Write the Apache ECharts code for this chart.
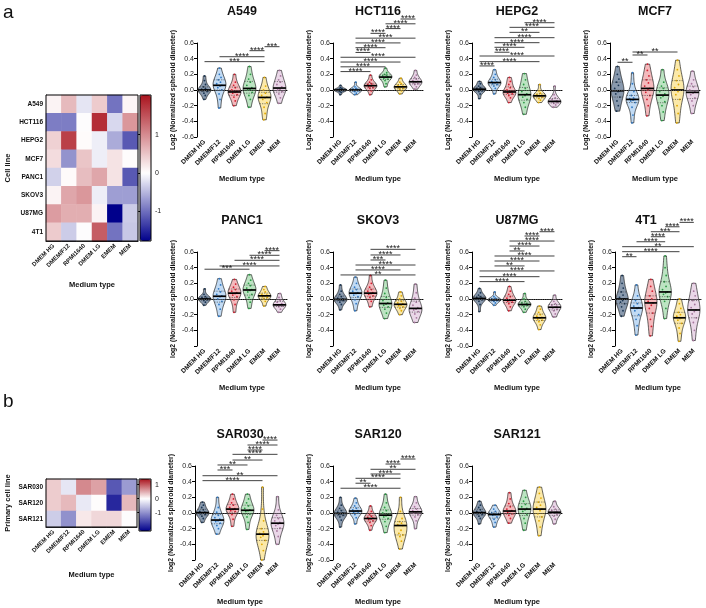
<!DOCTYPE html>
<html><head><meta charset="utf-8">
<script src="https://cdn.jsdelivr.net/npm/echarts@6/dist/echarts.min.js"></script>
<style>html,body{margin:0;padding:0;background:#fff}#c{width:706px;height:608px}</style>
</head><body><div id="c"></div><script>
// ---------------- DATA ----------------
const MEDIA = ['DMEM HG','DMEM/F12','RPMI1640','DMEM LG','EMEM','MEM'];
const CELL_LINES = ['A549','HCT116','HEPG2','MCF7','PANC1','SKOV3','U87MG','4T1'];
const PRIMARY_LINES = ['SAR030','SAR120','SAR121'];
const CB_A = [-1.77, 2.03];
const CB_B = [-2.3, 1.4];
const CB_TICKS = [-1, 0, 1];
const Y_TICKS_MIN = -0.6, Y_TICKS_MAX = 0.6, Y_STEP = 0.2;

const HEAT_A = [
  [0.10, 0.60, -0.18, 0.45, -0.97, 0.08],
  [-0.90, -0.90, 0.00, 1.80, -0.27, 0.90],
  [0.40, 1.65, 0.03, -0.12, -0.58, -1.15],
  [0.30, -0.75, 0.50, -0.12, 0.24, 0.02],
  [-0.32, 0.04, 0.57, 0.77, 0.24, -1.15],
  [0.10, 0.77, 0.90, -0.12, -0.67, -0.67],
  [0.85, 0.70, 0.70, 0.10, -1.77, -0.35],
  [0.45, -0.35, 0.00, 1.40, -0.97, -0.38]
];
const HEAT_B = [
  [0.30, -0.23, 0.70, 0.56, -1.50, -0.90],
  [0.30, 0.42, -0.20, 0.02, -1.95, 0.42],
  [-0.45, -1.00, 0.14, 0.24, 0.24, 0.00]
];

// violin samples per medium (order as MEDIA)
const A549 = [
  [-0.12,-0.07,-0.04,-0.02,-0.01,0,0,0.01,0.02,0.04,0.07,0.12,0.18],
  [-0.23,-0.12,-0.05,0,0.03,0.05,0.06,0.08,0.1,0.13,0.16,0.2,0.28],
  [-0.2,-0.14,-0.09,-0.06,-0.04,-0.03,-0.02,0,0.03,0.06,0.1,0.2],
  [-0.22,-0.12,-0.07,-0.03,0,0.01,0.03,0.06,0.1,0.14,0.2,0.3],
  [-0.38,-0.3,-0.22,-0.16,-0.12,-0.1,-0.09,-0.07,-0.04,0,0.05,0.16],
  [-0.17,-0.1,-0.05,-0.02,0,0.01,0.04,0.07,0.1,0.13,0.18,0.25]
];
const HCT116 = [
  [-0.06,-0.03,-0.02,-0.01,-0.01,0,0,0,0.01,0.01,0.02,0.03,0.06],
  [-0.06,-0.04,-0.02,-0.01,-0.01,0,0,0.01,0.02,0.04,0.1],
  [-0.06,-0.01,0.02,0.03,0.04,0.05,0.06,0.07,0.08,0.1,0.13,0.19],
  [0.04,0.08,0.12,0.14,0.15,0.16,0.17,0.18,0.19,0.2,0.22,0.28],
  [-0.05,-0.01,0.01,0.02,0.03,0.04,0.05,0.06,0.08,0.1,0.15],
  [0.01,0.04,0.07,0.08,0.09,0.1,0.11,0.12,0.14,0.16,0.19,0.25]
];
const HEPG2 = [
  [-0.11,-0.05,-0.02,-0.01,0,0.01,0.01,0.02,0.03,0.05,0.08,0.11],
  [-0.05,0.02,0.05,0.07,0.08,0.09,0.1,0.11,0.13,0.16,0.2,0.26],
  [-0.16,-0.1,-0.07,-0.05,-0.04,-0.03,-0.02,0,0.03,0.07,0.11,0.16],
  [-0.31,-0.22,-0.16,-0.12,-0.09,-0.07,-0.05,-0.02,0.02,0.07,0.13,0.21],
  [-0.16,-0.13,-0.11,-0.09,-0.08,-0.075,-0.07,-0.06,-0.04,-0.01,0.07],
  [-0.22,-0.19,-0.17,-0.16,-0.15,-0.145,-0.14,-0.12,-0.1,-0.06,0.05]
];
const MCF7 = [
  [-0.27,-0.2,-0.14,-0.09,-0.05,-0.02,-0.01,0.02,0.06,0.1,0.14,0.2,0.3],
  [-0.42,-0.32,-0.22,-0.16,-0.14,-0.13,-0.12,-0.11,-0.1,-0.07,-0.02,0.08,0.22],
  [-0.33,-0.2,-0.12,-0.07,-0.03,0,0.02,0.05,0.09,0.13,0.18,0.25,0.33],
  [-0.39,-0.28,-0.2,-0.15,-0.1,-0.08,-0.05,-0.02,0.02,0.05,0.1,0.26],
  [-0.42,-0.3,-0.2,-0.12,-0.06,-0.02,0,0.03,0.07,0.12,0.18,0.26,0.38],
  [-0.3,-0.2,-0.14,-0.1,-0.06,-0.04,-0.02,0,0.04,0.08,0.13,0.24]
];
const PANC1 = [
  [-0.08,-0.04,-0.02,-0.01,0,0,0.01,0.02,0.03,0.06,0.13],
  [-0.22,-0.13,-0.07,-0.03,0,0.03,0.04,0.06,0.09,0.13,0.18,0.26],
  [-0.17,-0.07,-0.01,0.03,0.05,0.07,0.08,0.1,0.12,0.15,0.19,0.25],
  [-0.12,-0.04,0.02,0.06,0.09,0.11,0.12,0.14,0.17,0.2,0.24,0.31],
  [-0.09,-0.03,0,0.02,0.03,0.04,0.05,0.06,0.09,0.12,0.16],
  [-0.17,-0.13,-0.1,-0.09,-0.08,-0.075,-0.06,-0.04,-0.02,0.02,0.07]
];
const SKOV3 = [
  [-0.14,-0.07,-0.04,-0.02,-0.01,-0.01,0,0.01,0.03,0.06,0.1,0.18],
  [-0.15,-0.06,-0.01,0.03,0.05,0.07,0.08,0.1,0.12,0.15,0.2,0.28],
  [-0.1,-0.03,0.02,0.04,0.06,0.07,0.08,0.1,0.12,0.15,0.2,0.3],
  [-0.25,-0.18,-0.13,-0.1,-0.08,-0.065,-0.05,-0.02,0.02,0.07,0.14,0.24],
  [-0.2,-0.15,-0.12,-0.1,-0.085,-0.075,-0.06,-0.05,-0.03,0,0.04,0.09],
  [-0.3,-0.24,-0.19,-0.16,-0.14,-0.13,-0.11,-0.08,-0.04,0.01,0.08,0.19]
];
const U87MG = [
  [-0.16,-0.07,-0.03,-0.01,0,0.005,0.01,0.02,0.03,0.05,0.08,0.135],
  [-0.08,-0.05,-0.03,-0.02,-0.015,-0.01,-0.005,0,0.01,0.03,0.09],
  [-0.15,-0.1,-0.06,-0.04,-0.03,-0.02,-0.01,0.01,0.03,0.06,0.1,0.16],
  [-0.17,-0.13,-0.1,-0.08,-0.075,-0.07,-0.06,-0.05,-0.03,0,0.07],
  [-0.39,-0.33,-0.29,-0.27,-0.255,-0.245,-0.235,-0.22,-0.2,-0.17,-0.13,-0.09],
  [-0.23,-0.19,-0.15,-0.13,-0.115,-0.105,-0.09,-0.08,-0.06,-0.03,0.05]
];
const T4T1 = [
  [-0.22,-0.15,-0.1,-0.06,-0.04,-0.02,0,0.02,0.05,0.09,0.14,0.2,0.3],
  [-0.46,-0.34,-0.26,-0.2,-0.15,-0.12,-0.11,-0.09,-0.06,-0.02,0.04,0.18],
  [-0.47,-0.35,-0.26,-0.18,-0.12,-0.08,-0.05,-0.03,0,0.04,0.1,0.16,0.25],
  [-0.25,-0.12,-0.03,0.03,0.06,0.08,0.09,0.12,0.16,0.22,0.3,0.4,0.55],
  [-0.54,-0.44,-0.37,-0.31,-0.27,-0.25,-0.24,-0.22,-0.2,-0.17,-0.12,-0.06,0],
  [-0.53,-0.4,-0.3,-0.24,-0.19,-0.16,-0.14,-0.11,-0.07,-0.02,0.04,0.1,0.2]
];
const SAR030 = [
  [-0.12,-0.07,-0.04,-0.02,-0.01,0,0.01,0.02,0.04,0.07,0.1,0.14],
  [-0.27,-0.2,-0.16,-0.13,-0.11,-0.1,-0.08,-0.06,-0.03,0.01,0.07,0.2],
  [-0.17,-0.08,-0.02,0.02,0.03,0.045,0.055,0.07,0.1,0.13,0.18,0.24],
  [-0.21,-0.12,-0.05,-0.01,0.02,0.03,0.04,0.06,0.09,0.13,0.18,0.24],
  [-0.6,-0.48,-0.4,-0.35,-0.31,-0.29,-0.27,-0.26,-0.24,-0.2,-0.1,0.05,0.33],
  [-0.4,-0.3,-0.23,-0.19,-0.16,-0.14,-0.12,-0.1,-0.07,-0.03,0.04,0.21]
];
const SAR120 = [
  [-0.18,-0.09,-0.05,-0.03,-0.02,-0.01,0,0.01,0.03,0.06,0.1,0.2],
  [-0.14,-0.06,-0.02,0,0.01,0.02,0.03,0.04,0.06,0.09,0.13,0.19],
  [-0.22,-0.16,-0.12,-0.1,-0.085,-0.075,-0.065,-0.055,-0.04,-0.02,0.02,0.09],
  [-0.25,-0.17,-0.11,-0.07,-0.05,-0.035,-0.02,0,0.03,0.07,0.13,0.24],
  [-0.46,-0.36,-0.3,-0.28,-0.26,-0.22,-0.16,-0.15,-0.13,-0.11,-0.07,0.02,0.2],
  [-0.2,-0.1,-0.05,-0.02,0,0.01,0.02,0.03,0.05,0.08,0.13,0.21]
];
const SAR121 = [
  [-0.14,-0.07,-0.04,-0.02,-0.01,0,0.01,0.02,0.04,0.07,0.1,0.15],
  [-0.18,-0.12,-0.08,-0.05,-0.03,-0.02,-0.01,0,0.02,0.05,0.1],
  [-0.13,-0.07,-0.03,-0.01,0.01,0.02,0.03,0.05,0.08,0.12,0.18,0.26],
  [-0.22,-0.13,-0.07,-0.02,0.02,0.04,0.06,0.08,0.11,0.15,0.2,0.29],
  [-0.29,-0.18,-0.1,-0.05,-0.01,0.03,0.05,0.07,0.1,0.14,0.19,0.25,0.33],
  [-0.14,-0.08,-0.04,-0.02,0,0.01,0.02,0.03,0.05,0.08,0.15]
];

// significance bars: [from, to, label, y]
const SIG_A549 = [[0,4,'***',0.362],[1,4,'****',0.425],[3,4,'****',0.502],[4,5,'***',0.553]];
const SIG_HCT116 = [[0,2,'****',0.235],[0,3,'****',0.296],[0,4,'****',0.357],[0,5,'****',0.418],[1,2,'****',0.479],[1,3,'****',0.540],[1,4,'****',0.601],[1,5,'****',0.662],[2,3,'****',0.723],[3,4,'****',0.784],[3,5,'****',0.845],[4,5,'****',0.906]];
const SIG_HEPG2 = [[0,1,'****',0.307],[0,4,'****',0.362],[0,5,'****',0.434],[1,2,'****',0.482],[1,3,'****',0.545],[1,4,'****',0.604],[1,5,'****',0.668],[2,4,'**',0.736],[2,5,'****',0.8],[3,5,'****',0.859]];
const SIG_MCF7 = [[0,1,'**',0.354],[1,2,'**',0.447],[1,4,'**',0.485]];
const SIG_PANC1 = [[0,3,'***',0.38],[1,5,'****',0.422],[2,5,'****',0.494],[3,5,'****',0.558],[4,5,'****',0.617]];
const SIG_SKOV3 = [[0,5,'**',0.307],[1,4,'****',0.371],[1,5,'****',0.434],[2,3,'***',0.498],[2,4,'****',0.562],[2,5,'****',0.634]];
const SIG_U87MG = [[0,3,'****',0.222],[0,4,'****',0.285],[0,5,'****',0.358],[1,3,'**',0.422],[1,4,'****',0.485],[1,5,'****',0.549],[2,3,'**',0.613],[2,4,'****',0.676],[2,5,'****',0.74],[3,4,'****',0.804],[4,5,'****',0.859]];
const SIG_4T1 = [[0,1,'**',0.54],[0,4,'****',0.604],[0,5,'**',0.668],[1,3,'****',0.731],[2,3,'****',0.795],[2,4,'***',0.859],[3,4,'****',0.922],[4,5,'****',0.978]];
const SIG_SAR030 = [[0,4,'****',0.413],[0,5,'**',0.476],[1,2,'***',0.549],[1,3,'**',0.613],[2,4,'**',0.676],[2,5,'****',0.749],[3,4,'****',0.804],[3,5,'****',0.868],[4,5,'****',0.931]];
const SIG_SAR120 = [[0,4,'****',0.316],[1,2,'**',0.38],[1,4,'****',0.443],[2,4,'****',0.498],[2,5,'**',0.558],[3,4,'****',0.625],[4,5,'****',0.689]];
const SIG_SAR121 = [];

// ---------------- STYLE / LAYOUT ----------------
const FONT = '"Liberation Sans", Arial, sans-serif';
const FILL = ['rgba(40,70,105,0.55)','rgba(95,160,225,0.38)','rgba(225,70,80,0.38)','rgba(80,185,95,0.38)','rgba(245,200,40,0.40)','rgba(205,160,200,0.42)'];
const DOT = ['#1a3552','#2f78c4','#d21f30','#2b9a44','#e2a900','#a7779e'];
const JIT = [-0.5,0.3,-0.15,0.55,-0.35,0.1,0.45,-0.55,0.2,-0.25,0.4,-0.05,0.0];
const Y1 = 'Log2 (Normalized spheroid diameter)';
const Y2 = 'log2 (Normalized spheroid diameter)';
const GH = 94;
const PANELS = [
  {title:'A549', s:A549, sig:SIG_A549, left:197, top:43, w:90, yName:Y1, showMin:true},
  {title:'HCT116', s:HCT116, sig:SIG_HCT116, left:333, top:43, w:90, yName:Y1, showMin:false},
  {title:'HEPG2', s:HEPG2, sig:SIG_HEPG2, left:472, top:43, w:90, yName:Y1, showMin:false},
  {title:'MCF7', s:MCF7, sig:SIG_MCF7, left:610, top:43, w:90, yName:Y1, showMin:true},
  {title:'PANC1', s:PANC1, sig:SIG_PANC1, left:197, top:252, w:90, yName:Y2, showMin:false},
  {title:'SKOV3', s:SKOV3, sig:SIG_SKOV3, left:333, top:252, w:90, yName:Y2, showMin:false},
  {title:'U87MG', s:U87MG, sig:SIG_U87MG, left:472, top:252, w:90, yName:Y2, showMin:true},
  {title:'4T1', s:T4T1, sig:SIG_4T1, left:615, top:252, w:86, yName:Y2, showMin:false, tdx:-12},
  {title:'SAR030', s:SAR030, sig:SIG_SAR030, left:195, top:466, w:90, yName:Y2, showMin:false},
  {title:'SAR120', s:SAR120, sig:SIG_SAR120, left:333, top:466, w:90, yName:Y2, showMin:true},
  {title:'SAR121', s:SAR121, sig:SIG_SAR121, left:472, top:466, w:90, yName:Y2, showMin:false}
];
const HA = {left:46, top:95, w:92, h:146};
const HB = {left:46, top:479, w:91, h:48};
const CA = {left:140, top:95, w:11, h:146};
const CBB = {left:139, top:479, w:12, h:52};

function colAt(v, mn, mx){
  let c;
  if (v < 0){ const t = Math.min(1, v/mn); c = [255-255*t, 255-255*t, 255-(255-139)*t]; }
  else { const t = Math.min(1, v/mx); c = [255-(255-170)*t, 255-(255-20)*t, 255-(255-30)*t]; }
  return 'rgb(' + c.map(Math.round).join(',') + ')';
}
function stops(r){ const out=[]; const N=81; for(let k=0;k<N;k++){ out.push(colAt(r[0]+(r[1]-r[0])*k/(N-1), r[0], r[1])); } return out; }
function quant(s,p){ const i=(s.length-1)*p, lo=Math.floor(i), hi=Math.ceil(i); return s[lo]+(s[hi]-s[lo])*(i-lo); }

function violinRender(list){
  return function(params, api){
    const ci = api.value(0);
    const raw = list[ci];
    const s = raw.slice().sort((a,b)=>a-b);
    const n = s.length, mn = s[0], mx = s[n-1];
    const mean = s.reduce((a,b)=>a+b,0)/n;
    const sd = Math.sqrt(s.reduce((a,b)=>a+(b-mean)*(b-mean),0)/(n-1));
    const bw = 0.8*1.06*sd*Math.pow(n,-0.2);
    const dens = v => s.reduce((a,x)=>a+Math.exp(-0.5*((v-x)/bw)*((v-x)/bw)),0);
    const steps = 40, vs=[], ds=[];
    for(let k=0;k<=steps;k++){ const v=mn+(mx-mn)*k/steps; vs.push(v); ds.push(dens(v)); }
    const dmax = Math.max.apply(null, ds);
    const band = api.size([1,0])[0];
    const maxHalf = band*0.43;
    const cx = api.coord([ci,0])[0];
    const hw = v => maxHalf*dens(v)/dmax;
    const right=[], left=[];
    vs.forEach((v,k)=>{ const y=api.coord([ci,v])[1]; const w=maxHalf*ds[k]/dmax; right.push([cx+w,y]); left.unshift([cx-w,y]); });
    const children = [{type:'polygon', shape:{points:right.concat(left)}, style:{fill:FILL[ci], stroke:'#111', lineWidth:0.65}}];
    raw.forEach((v,i)=>{
      const y = api.coord([ci,v])[1];
      children.push({type:'circle', shape:{cx:cx+JIT[i%JIT.length]*hw(v)*0.8, cy:y, r:0.9}, style:{fill:DOT[ci]}});
    });
    [0.25,0.75].forEach(p=>{
      const q = quant(s,p), y=api.coord([ci,q])[1], w=hw(q);
      children.push({type:'line', shape:{x1:cx-w,y1:y,x2:cx+w,y2:y}, style:{stroke:'#333', lineWidth:0.6, lineDash:[1.2,1.2]}});
    });
    const md = quant(s,0.5), ym = api.coord([ci,md])[1], wm = hw(md);
    children.push({type:'line', shape:{x1:cx-wm,y1:ym,x2:cx+wm,y2:ym}, style:{stroke:'#000', lineWidth:1.7}});
    return {type:'group', children};
  };
}
function sigRender(list){
  return function(params, api){
    const b = list[params.dataIndex];
    const p1 = api.coord([b[0], b[3]]), p2 = api.coord([b[1], b[3]]);
    return {type:'group', children:[
      {type:'line', shape:{x1:p1[0],y1:p1[1],x2:p2[0],y2:p2[1]}, style:{stroke:'#111', lineWidth:0.8}},
      {type:'text', style:{text:b[2], x:(p1[0]+p2[0])/2, y:p1[1]+4, textAlign:'center', textVerticalAlign:'bottom', fontSize:9, fontFamily:FONT, fill:'#222'}}
    ]};
  };
}

const grids=[], xAxes=[], yAxes=[], series=[], graphics=[];
function addHeat(box, rows, vals, yName, nameGapY, nameGapX){
  const gi = grids.length;
  grids.push({left:box.left, top:box.top, width:box.w, height:box.h});
  xAxes.push({type:'category', gridIndex:gi, data:MEDIA, axisLine:{lineStyle:{color:'#000'}}, axisTick:{alignWithLabel:true, length:3, lineStyle:{color:'#000'}},
    axisLabel:{rotate:45, interval:0, fontSize:6, fontWeight:'bold', color:'#111', fontFamily:FONT, margin:4},
    name:'Medium type', nameLocation:'middle', nameGap:nameGapX, nameTextStyle:{fontSize:7.5, fontWeight:'bold', color:'#111', fontFamily:FONT}});
  yAxes.push({type:'category', gridIndex:gi, data:rows, inverse:true, axisLine:{lineStyle:{color:'#000'}}, axisTick:{alignWithLabel:true, length:3, lineStyle:{color:'#000'}},
    axisLabel:{fontSize:6.5, fontWeight:'bold', color:'#111', fontFamily:FONT, margin:3},
    name:yName, nameLocation:'middle', nameGap:nameGapY, nameRotate:90, nameTextStyle:{fontSize:7.5, fontWeight:'bold', color:'#111', fontFamily:FONT}});
  const data=[]; vals.forEach((r,ri)=>r.forEach((v,ci)=>data.push([ci,ri,v])));
  series.push({type:'heatmap', xAxisIndex:gi, yAxisIndex:gi, data, itemStyle:{borderWidth:0}, emphasis:{disabled:true}});
  graphics.push({type:'rect', shape:{x:box.left, y:box.top, width:box.w, height:box.h}, style:{fill:'none', stroke:'#000', lineWidth:1}, z:100});
}
addHeat(HA, CELL_LINES, HEAT_A, 'Cell line', 34, 40);
addHeat(HB, PRIMARY_LINES, HEAT_B, 'Primary cell line', 34, 44);
function addBar(box, r){
  const gi = grids.length;
  grids.push({left:box.left, top:box.top, width:box.w, height:box.h});
  xAxes.push({type:'value', gridIndex:gi, show:false, min:0, max:1});
  yAxes.push({type:'value', gridIndex:gi, position:'right', min:r[0], max:r[1], splitLine:{show:false}, axisLine:{show:false},
    axisTick:{show:true, inside:true, length:3, customValues:CB_TICKS, lineStyle:{color:'#000', width:1}},
    axisLabel:{customValues:CB_TICKS, fontSize:7, color:'#222', fontFamily:FONT, margin:4}});
  graphics.push({type:'rect', shape:{x:box.left, y:box.top, width:box.w, height:box.h}, style:{fill:'none', stroke:'#000', lineWidth:1}, z:100});
}
addBar(CA, CB_A);
addBar(CBB, CB_B);

PANELS.forEach(p=>{
  const gi = grids.length;
  grids.push({left:p.left, top:p.top, width:p.w, height:GH});
  xAxes.push({type:'category', gridIndex:gi, data:MEDIA, boundaryGap:true, axisLine:{lineStyle:{color:'#000', width:1}},
    axisTick:{alignWithLabel:true, length:3, lineStyle:{color:'#000'}},
    axisLabel:{rotate:45, interval:0, fontSize:6.5, fontWeight:'bold', color:'#111', fontFamily:FONT, margin:4},
    name:'Medium type', nameLocation:'middle', nameGap:38, nameTextStyle:{fontSize:7.5, fontWeight:'bold', color:'#111', fontFamily:FONT}});
  yAxes.push({type:'value', gridIndex:gi, min:Y_TICKS_MIN, max:Y_TICKS_MAX, interval:Y_STEP, splitLine:{show:false},
    axisLine:{show:true, lineStyle:{color:'#000', width:1}}, axisTick:{show:true, length:3, lineStyle:{color:'#000'}},
    axisLabel:{fontSize:7, color:'#222', fontFamily:FONT, margin:3, formatter:v=>(!p.showMin && Math.abs(v-Y_TICKS_MIN)<1e-6)?'':v.toFixed(1)},
    name:p.yName, nameLocation:'middle', nameGap:20, nameRotate:90, nameTextStyle:{fontSize:6.8, fontWeight:'bold', color:'#111', fontFamily:FONT}});
  series.push({type:'custom', xAxisIndex:gi, yAxisIndex:gi, renderItem:violinRender(p.s), clip:false,
    data:MEDIA.map((m,i)=>[i,0]), encode:{x:0,y:1}, z:3,
    markLine:{silent:true, symbol:'none', label:{show:false}, lineStyle:{type:'dotted', color:'#666', width:0.9}, data:[{yAxis:0}], animation:false}});
  if (p.sig.length) series.push({type:'custom', xAxisIndex:gi, yAxisIndex:gi, renderItem:sigRender(p.sig), clip:false,
    data:p.sig.map(b=>[b[0], b[3]]), encode:{x:0,y:1}, z:4});
  graphics.push({type:'text', x:p.left+p.w/2+(p.tdx||0), y:p.top-31, style:{text:p.title, textAlign:'center', textVerticalAlign:'middle', fontSize:12.5, fontWeight:'bold', fontFamily:FONT, fill:'#111'}, z:100});
});
graphics.push({type:'text', x:3, y:3, style:{text:'a', fontSize:19, fontFamily:FONT, fill:'#111', textVerticalAlign:'top'}});
graphics.push({type:'text', x:3, y:392, style:{text:'b', fontSize:19, fontFamily:FONT, fill:'#111', textVerticalAlign:'top'}});

const chart = echarts.init(document.getElementById('c'));
chart.setOption({
  animation:false, backgroundColor:'#fff',
  textStyle:{fontFamily:FONT},
  grid:grids, xAxis:xAxes, yAxis:yAxes, series,
  visualMap:[
    {type:'continuous', min:CB_A[0], max:CB_A[1], seriesIndex:0, dimension:2, orient:'vertical', left:CA.left, top:CA.top, itemWidth:CA.w, itemHeight:CA.h, padding:0, calculable:false, hoverLink:false, inRange:{color:stops(CB_A)}},
    {type:'continuous', min:CB_B[0], max:CB_B[1], seriesIndex:1, dimension:2, orient:'vertical', left:CBB.left, top:CBB.top, itemWidth:CBB.w, itemHeight:CBB.h, padding:0, calculable:false, hoverLink:false, inRange:{color:stops(CB_B)}}
  ],
  graphic:graphics
});
</script></body></html>
